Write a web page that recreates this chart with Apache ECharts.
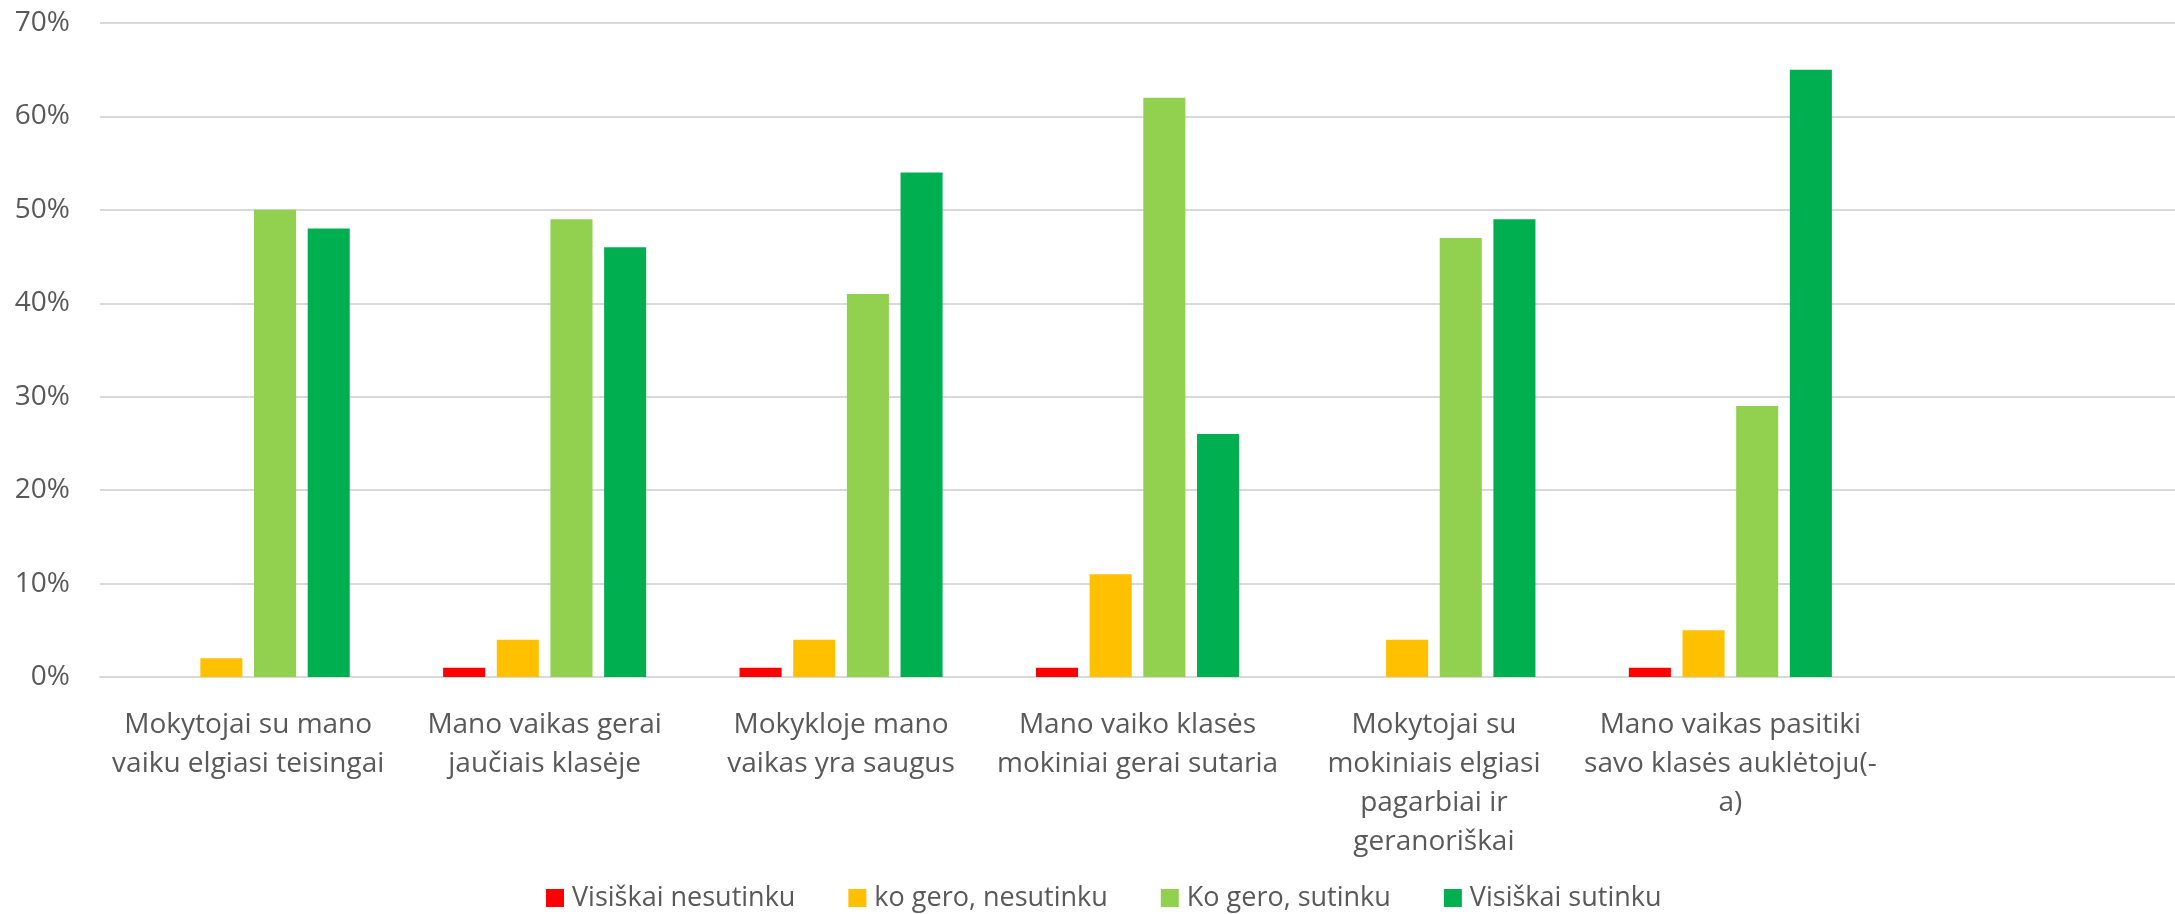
<!DOCTYPE html>
<html>
<head>
<meta charset="utf-8">
<script src="https://cdn.jsdelivr.net/npm/echarts@6/dist/echarts.min.js"></script>
<style>
html,body{margin:0;padding:0;background:#fff;}
#chart{width:2175px;height:914px;}
</style>
</head>
<body>
<div id="chart"></div>
<script>
const categories = [
  "Mokytojai su mano\nvaiku elgiasi teisingai",
  "Mano vaikas gerai\njaučiais klasėje",
  "Mokykloje mano\nvaikas yra saugus",
  "Mano vaiko klasės\nmokiniai gerai sutaria",
  "Mokytojai su\nmokiniais elgiasi\npagarbiai ir\ngeranoriškai",
  "Mano vaikas pasitiki\nsavo klasės auklėtoju(-\na)",
  ""
];
const seriesNames = ["Visiškai nesutinku", "ko gero, nesutinku", "Ko gero, sutinku", "Visiškai sutinku"];
const visiskaiNesutinku = [null, 1, 1, 1, null, 1, null];
const koGeroNesutinku = [2, 4, 4, 11, 4, 5, null];
const koGeroSutinku = [50, 49, 41, 62, 47, 29, null];
const visiskaiSutinku = [48, 46, 54, 26, 49, 65, null];
const colors = ["#FF0000", "#FFC000", "#92D050", "#00B050"];

const FONT = "'Open Sans', sans-serif";
const chart = echarts.init(document.getElementById('chart'));
const dataSets = [visiskaiNesutinku, koGeroNesutinku, koGeroSutinku, visiskaiSutinku];
chart.setOption({
  animation: false,
  color: colors,
  grid: {left: 100, right: 0, top: 23, bottom: 237, containLabel: false},
  legend: {
    data: seriesNames,
    left: 541,
    top: 876,
    itemWidth: 18,
    itemHeight: 18,
    itemGap: 53,
    icon: 'rect',
    textStyle: {fontFamily: FONT, fontSize: 27, lineHeight: 34, color: '#595959', padding: [0, 0, 0, 3]}
  },
  xAxis: {
    type: 'category',
    data: categories,
    axisLine: {lineStyle: {color: '#d9d9d9', width: 2}},
    axisTick: {show: false},
    axisLabel: {
      interval: 0,
      margin: 29,
      fontFamily: FONT,
      fontSize: 28,
      lineHeight: 39,
      color: '#595959'
    }
  },
  yAxis: {
    type: 'value',
    min: 0,
    max: 70,
    interval: 10,
    axisLine: {show: false},
    axisTick: {show: false},
    splitLine: {lineStyle: {color: '#d9d9d9', width: 2}},
    axisLabel: {
      formatter: '{value}%',
      margin: 30,
      fontFamily: FONT,
      fontSize: 28,
      color: '#595959'
    }
  },
  series: seriesNames.map((n, i) => ({
    name: n,
    type: 'bar',
    data: dataSets[i],
    barGap: '27.6%',
    barCategoryGap: '31.5%'
  }))
});
</script>
</body>
</html>
